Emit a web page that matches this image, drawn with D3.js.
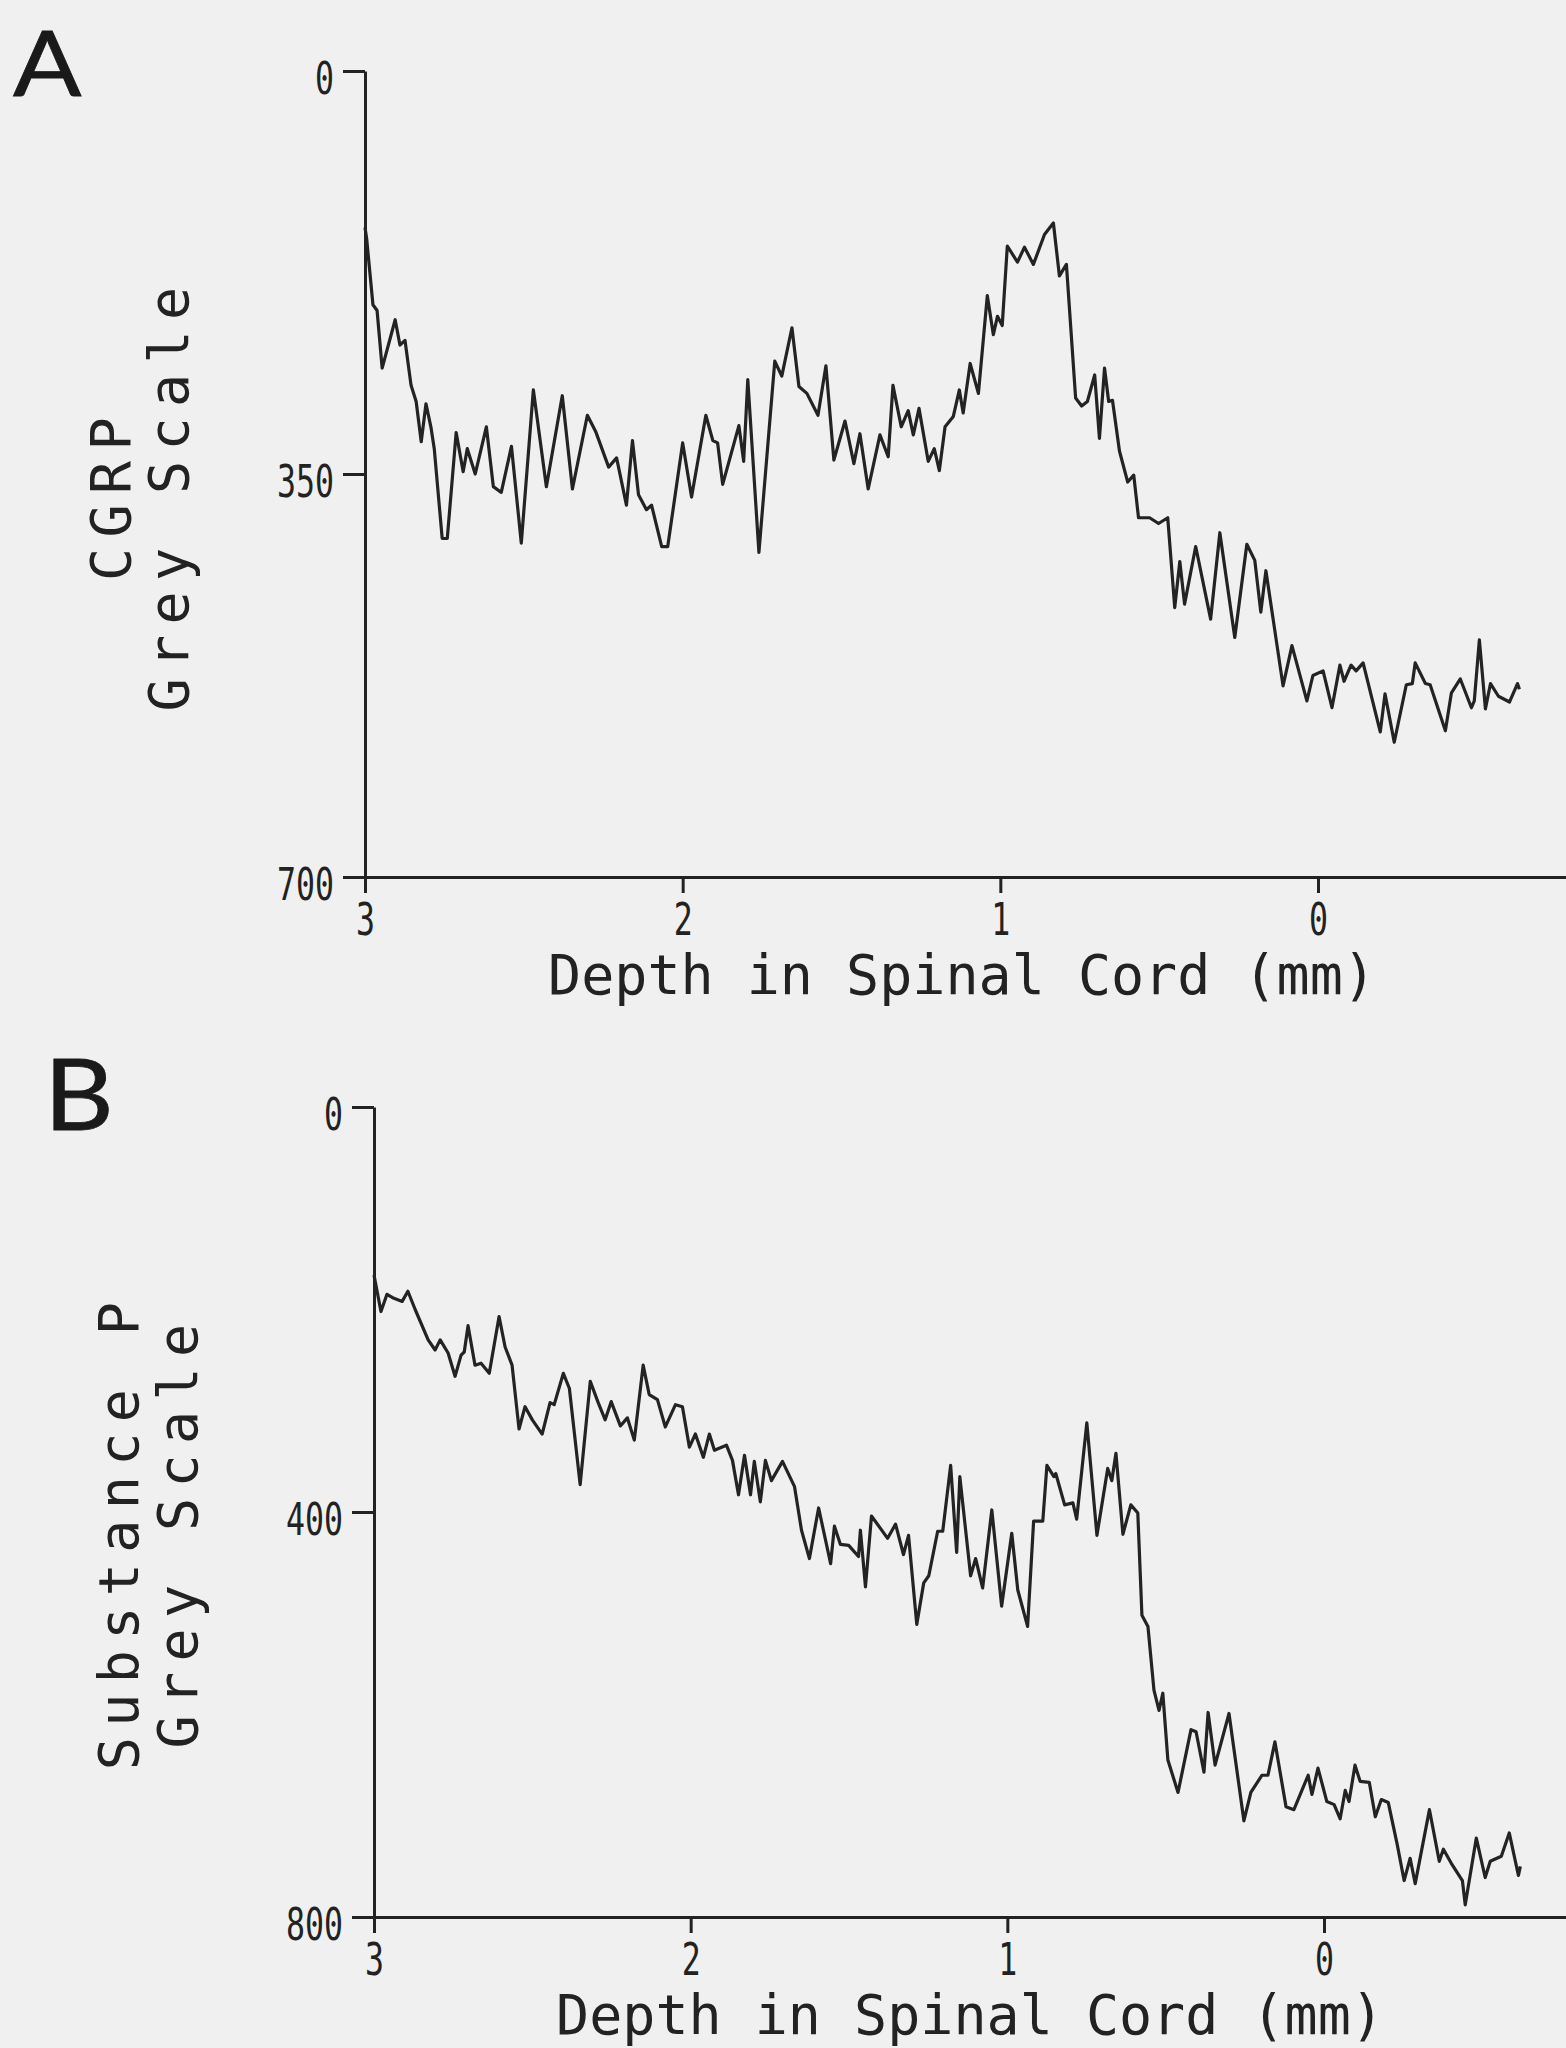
<!DOCTYPE html>
<html>
<head>
<meta charset="utf-8">
<script src="https://cdn.jsdelivr.net/npm/d3@7"></script>
<style>
  html, body { margin: 0; padding: 0; background: #f0f0f0; }
  svg { display: block; }
</style>
</head>
<body>
<svg id="fig" width="1566" height="2048"></svg>
<script>
// ---- Panel A: CGRP grey-scale profile vs depth (mm) ----
const cgrpDepth = [3.000, 2.995, 2.975, 2.962, 2.946, 2.905, 2.890, 2.874, 2.855, 2.839,
  2.823, 2.808, 2.792, 2.782, 2.757, 2.741, 2.713, 2.691, 2.678, 2.653,
  2.618, 2.596, 2.571, 2.539, 2.508, 2.470, 2.429, 2.379, 2.347, 2.300,
  2.274, 2.233, 2.208, 2.177, 2.158, 2.139, 2.114, 2.098, 2.066, 2.047,
  2.000, 1.972, 1.927, 1.905, 1.890, 1.874, 1.823, 1.808, 1.795, 1.760,
  1.710, 1.688, 1.656, 1.634, 1.609, 1.574, 1.549, 1.524, 1.489, 1.461,
  1.442, 1.416, 1.379, 1.353, 1.338, 1.312, 1.290, 1.274, 1.256, 1.227,
  1.208, 1.192, 1.174, 1.148, 1.129, 1.117, 1.095, 1.069, 1.041, 1.022,
  1.009, 0.994, 0.978, 0.946, 0.924, 0.896, 0.861, 0.833, 0.814, 0.792,
  0.763, 0.744, 0.726, 0.703, 0.688, 0.672, 0.659, 0.647, 0.625, 0.599,
  0.580, 0.565, 0.530, 0.502, 0.473, 0.451, 0.435, 0.420, 0.385, 0.338,
  0.309, 0.262, 0.224, 0.199, 0.180, 0.164, 0.110, 0.082, 0.035, 0.016,
  -0.016, -0.044, -0.069, -0.082, -0.104, -0.120, -0.142, -0.196, -0.211, -0.240,
  -0.278, -0.297, -0.306, -0.338, -0.353, -0.401, -0.420, -0.448, -0.483, -0.492,
  -0.508, -0.527, -0.543, -0.568, -0.603, -0.628, -0.634];
const cgrpGrey = [136, 145, 203, 208, 258, 216, 238, 234, 273, 287,
  322, 289, 310, 328, 406, 406, 314, 348, 328, 350,
  309, 361, 366, 326, 410, 277, 361, 282, 363, 299,
  313, 344, 336, 377, 321, 368, 381, 377, 413, 413,
  323, 370, 299, 321, 323, 359, 308, 339, 268, 418,
  252, 265, 223, 274, 280, 299, 256, 338, 304, 341,
  315, 363, 316, 335, 273, 309, 295, 316, 293, 339,
  328, 347, 309, 300, 277, 297, 254, 280, 195, 229,
  213, 221, 152, 166, 153, 168, 142, 132, 178, 168,
  284, 291, 287, 264, 319, 258, 287, 286, 330, 357,
  351, 388, 388, 393, 388, 466, 426, 463, 413, 476,
  401, 492, 411, 425, 470, 434, 534, 499, 547, 525,
  521, 553, 516, 530, 516, 521, 514, 574, 541, 583,
  533, 532, 514, 532, 533, 573, 540, 528, 553, 547,
  494, 554, 532, 543, 548, 532, 537];
const cgrpYTicks = [0, 350, 700];

// ---- Panel B: Substance P grey-scale profile vs depth (mm) ----
const spDepth = [3.000, 2.978, 2.959, 2.937, 2.911, 2.893, 2.870, 2.829, 2.807, 2.791,
  2.766, 2.744, 2.725, 2.715, 2.703, 2.681, 2.662, 2.636, 2.605, 2.586,
  2.564, 2.542, 2.523, 2.500, 2.469, 2.444, 2.431, 2.402, 2.383, 2.349,
  2.317, 2.292, 2.270, 2.251, 2.222, 2.200, 2.178, 2.150, 2.131, 2.105,
  2.080, 2.048, 2.026, 2.004, 1.985, 1.960, 1.941, 1.925, 1.887, 1.868,
  1.849, 1.830, 1.811, 1.799, 1.780, 1.764, 1.745, 1.710, 1.672, 1.650,
  1.625, 1.596, 1.558, 1.546, 1.527, 1.501, 1.470, 1.464, 1.448, 1.429,
  1.378, 1.353, 1.328, 1.312, 1.286, 1.264, 1.248, 1.220, 1.204, 1.179,
  1.160, 1.150, 1.116, 1.100, 1.078, 1.049, 1.018, 0.986, 0.967, 0.936,
  0.917, 0.888, 0.875, 0.853, 0.847, 0.819, 0.793, 0.781, 0.749, 0.717,
  0.683, 0.670, 0.657, 0.635, 0.610, 0.588, 0.575, 0.556, 0.537, 0.521,
  0.509, 0.493, 0.461, 0.420, 0.404, 0.379, 0.366, 0.344, 0.300, 0.253,
  0.231, 0.196, 0.177, 0.155, 0.120, 0.095, 0.050, 0.038, 0.019, -0.009,
  -0.032, -0.051, -0.067, -0.079, -0.098, -0.114, -0.143, -0.162, -0.181, -0.203,
  -0.231, -0.253, -0.272, -0.288, -0.333, -0.364, -0.377, -0.402, -0.437, -0.446,
  -0.481, -0.509, -0.525, -0.560, -0.585, -0.614, -0.620];
const spGrey = [166, 202, 185, 189, 192, 182, 200, 230, 240, 230,
  243, 266, 245, 242, 216, 255, 253, 263, 207, 237,
  255, 318, 296, 309, 323, 292, 294, 263, 278, 373,
  271, 292, 309, 291, 315, 307, 329, 255, 284, 289,
  316, 294, 296, 336, 323, 346, 323, 339, 334, 349,
  383, 344, 383, 350, 390, 349, 369, 350, 375, 418,
  446, 396, 451, 414, 432, 433, 444, 418, 474, 404,
  426, 412, 442, 423, 511, 470, 463, 419, 419, 354,
  440, 365, 463, 446, 475, 398, 493, 421, 477, 513,
  409, 409, 354, 365, 362, 393, 391, 407, 312, 423,
  357, 369, 342, 422, 393, 401, 502, 513, 576, 596,
  579, 645, 677, 615, 617, 657, 598, 650, 599, 705,
  677, 660, 660, 627, 691, 694, 660, 679, 653, 686,
  689, 703, 675, 686, 650, 666, 667, 701, 684, 687,
  728, 764, 742, 767, 694, 745, 733, 747, 764, 788,
  722, 761, 745, 740, 717, 759, 750];
const spYTicks = [0, 400, 800];

const depthTicks = [3, 2, 1, 0];
const depthTitle = "Depth in Spinal Cord (mm)";

// ---- page geometry ----
const W = 1566, H = 2048;
const INK = "#222";
const MONO = "'DejaVu Sans Mono', 'Liberation Mono', monospace";

const panels = [
  { letter: "A", letterX: 13, letterY: 96, letterSize: 92,
    depth: cgrpDepth, grey: cgrpGrey, yTicks: cgrpYTicks,
    title: ["CGRP", "Grey Scale"], titleX: [130, 188], titleY: 489,
    axisX: 365, zeroX: 1318, topY: 71, bottomY: 877, xTitleX: 962 },
  { letter: "B", letterX: 44, letterY: 1130, letterSize: 98,
    depth: spDepth, grey: spGrey, yTicks: spYTicks,
    title: ["Substance P", "Grey Scale"], titleX: [138, 197], titleY: 1526,
    axisX: 374, zeroX: 1324, topY: 1107, bottomY: 1917, xTitleX: 970 }
];

const svg = d3.select("#fig");
svg.append("rect").attr("width", W).attr("height", H).attr("fill", "#f0f0f0");

// condensed plotter-style tick numerals
function styleTickText(sel) {
  sel.attr("font-family", MONO)
     .attr("font-size", 45)
     .attr("fill", INK)
     .attr("textLength", function () { return 19 * this.textContent.length; })
     .attr("lengthAdjust", "spacingAndGlyphs");
}

panels.forEach(p => {
  const data = p.depth.map((d, i) => ({ d, g: p.grey[i] }));
  const yMax = p.yTicks[p.yTicks.length - 1];

  const y = d3.scaleLinear().domain([0, yMax]).range([p.topY, p.bottomY]);
  const x0 = d3.scaleLinear().domain([3, 0]).range([p.axisX, p.zeroX]);
  const x = d3.scaleLinear().domain([3, x0.invert(W)]).range([p.axisX, W]);

  // panel letter
  svg.append("text")
    .attr("transform", `translate(${p.letterX},${p.letterY}) scale(1.1,1)`)
    .attr("font-family", "Lato, 'Open Sans', sans-serif")
    .attr("font-size", p.letterSize)
    .attr("stroke", "#1a1a1a").attr("stroke-width", 0.8)
    .attr("fill", "#1a1a1a")
    .text(p.letter);

  // y axis
  const gy = svg.append("g").attr("transform", `translate(${p.axisX},0)`)
    .call(d3.axisLeft(y).tickValues(p.yTicks).tickSize(22).tickSizeOuter(0).tickPadding(9)
      .tickFormat(d3.format("d")));
  gy.select(".domain").attr("stroke", INK).attr("stroke-width", 3);
  gy.selectAll(".tick line").attr("stroke", INK).attr("stroke-width", 3);
  gy.selectAll(".tick text").call(styleTickText).attr("dy", "0.5em");

  // x axis
  const gx = svg.append("g").attr("transform", `translate(0,${p.bottomY})`)
    .call(d3.axisBottom(x).tickValues(depthTicks).tickSize(16).tickSizeOuter(0).tickPadding(10)
      .tickFormat(d3.format("d")));
  gx.select(".domain").attr("stroke", INK).attr("stroke-width", 3);
  gx.selectAll(".tick line").attr("stroke", INK).attr("stroke-width", 3);
  gx.selectAll(".tick text").call(styleTickText);

  // x axis title
  svg.append("text")
    .attr("x", p.xTitleX).attr("y", p.bottomY + 117)
    .attr("text-anchor", "middle")
    .attr("font-family", MONO).attr("font-size", 55)
    .attr("fill", INK)
    .text(depthTitle);

  // y axis title (two rotated lines, spaced letters)
  p.title.forEach((t, i) => {
    svg.append("text")
      .attr("transform", `translate(${p.titleX[i]},${p.titleY + 5}) rotate(-90)`)
      .attr("text-anchor", "middle")
      .attr("font-family", MONO).attr("font-size", 55)
      .attr("letter-spacing", 10.4)
      .attr("fill", INK)
      .text(t);
  });

  // profile trace
  const line = d3.line().x(v => x(v.d)).y(v => y(v.g));
  svg.append("path")
    .datum(data)
    .attr("d", line)
    .attr("fill", "none")
    .attr("stroke", "#232323")
    .attr("stroke-width", 3.2)
    .attr("stroke-linejoin", "round");
});
</script>
</body>
</html>
